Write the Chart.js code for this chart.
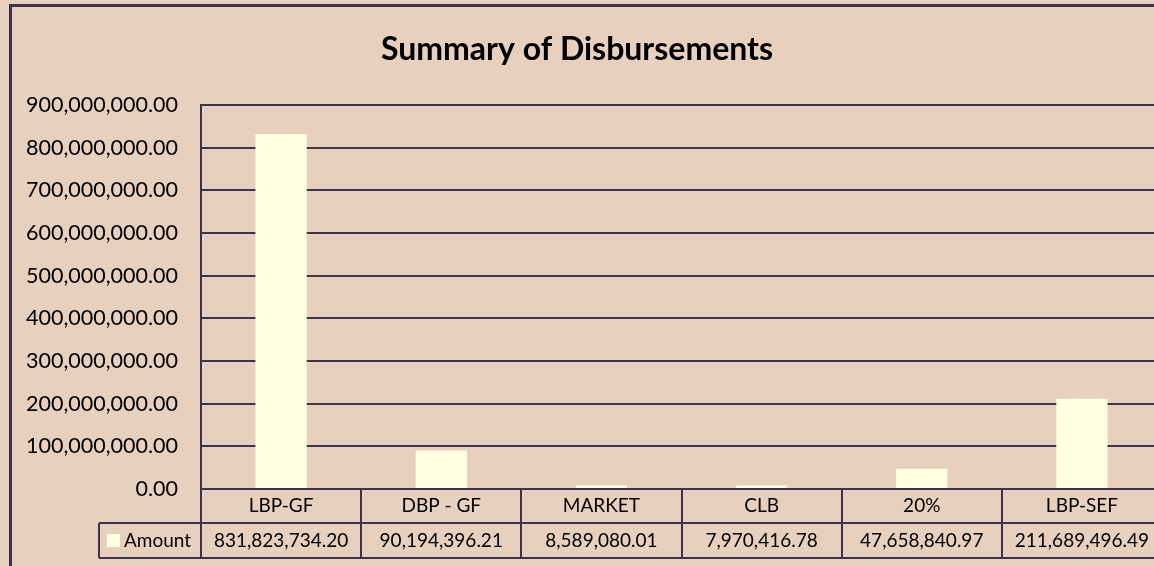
<!DOCTYPE html>
<html>
<head>
<meta charset="utf-8">
<script src="https://cdn.jsdelivr.net/npm/chart.js@4"></script>
<style>
html, body { margin: 0; padding: 0; background: #E8D0BE; overflow: hidden; }
#wrap { width: 1162px; height: 566px; }
</style>
</head>
<body>
<div id="wrap"><canvas id="chart" width="1162" height="566"></canvas></div>
<script>
const CATEGORIES = ['LBP-GF', 'DBP - GF', 'MARKET', 'CLB', '20%', 'LBP-SEF'];
const AMOUNTS = [831823734.20, 90194396.21, 8589080.01, 7970416.78, 47658840.97, 211689496.49];
const SERIES_LABEL = 'Amount';
const TITLE = 'Summary of Disbursements';
const Y_MIN = 0;
const Y_MAX = 900000000;
const Y_STEP = 100000000;

const LINE = '#3F3151';
const BAR = '#FFFFE3';
const FONT = 'Lato, "Open Sans", sans-serif';

const fmt = v => v.toLocaleString('en-US', { minimumFractionDigits: 2, maximumFractionDigits: 2 });

// title, outer frame and the data table under the plot
const tablePlugin = {
    id: 'dataTable',
    afterDraw: (chart) => {
        const ctx = chart.ctx;
        const x = chart.scales.x;
        const area = chart.chartArea;
        const step = x.getPixelForValue(1) - x.getPixelForValue(0);
        const top = area.bottom;
        const mid = top + 34;
        const bottom = top + 69;
        const legendLeft = 99;

        ctx.save();

        ctx.strokeStyle = LINE;
        ctx.lineWidth = 3;
        ctx.beginPath();
        ctx.moveTo(9, 5.5); ctx.lineTo(chart.width, 5.5);
        ctx.moveTo(10.5, 4); ctx.lineTo(10.5, chart.height);
        ctx.stroke();

        ctx.fillStyle = '#000';
        ctx.font = 'bold 32px ' + FONT;
        ctx.textAlign = 'center';
        ctx.textBaseline = 'middle';
        ctx.fillText(TITLE, 577, 50);

        ctx.lineWidth = 2;
        ctx.beginPath();
        ctx.moveTo(legendLeft, mid); ctx.lineTo(chart.width, mid);
        ctx.moveTo(legendLeft, bottom); ctx.lineTo(chart.width, bottom);
        ctx.moveTo(legendLeft, mid); ctx.lineTo(legendLeft, bottom);
        CATEGORIES.forEach((c, i) => {
            const edge = Math.round(x.getPixelForValue(i) - step / 2);
            ctx.moveTo(edge, top); ctx.lineTo(edge, bottom);
        });
        ctx.stroke();

        ctx.font = '19px ' + FONT;
        ctx.fillStyle = '#000';
        CATEGORIES.forEach((c, i) => {
            const cx = x.getPixelForValue(i);
            ctx.fillText(c, cx, top + 17);
            ctx.fillText(fmt(AMOUNTS[i]), cx, mid + 17.5);
        });

        ctx.fillStyle = BAR;
        ctx.fillRect(107, 534, 13, 13);
        ctx.fillStyle = '#000';
        ctx.textAlign = 'left';
        ctx.fillText(SERIES_LABEL, 124, mid + 17.5);

        ctx.restore();
    }
};

new Chart(document.getElementById('chart').getContext('2d'), {
    type: 'bar',
    data: {
        labels: CATEGORIES,
        datasets: [{
            label: SERIES_LABEL,
            data: AMOUNTS,
            backgroundColor: BAR,
            borderWidth: 0,
            barPercentage: 0.32,
            categoryPercentage: 1
        }]
    },
    options: {
        responsive: false,
        animation: false,
        devicePixelRatio: 1,
        layout: { padding: { top: 105, left: 0, right: 0, bottom: 0 } },
        plugins: {
            legend: { display: false },
            tooltip: { enabled: false },
            title: { display: false }
        },
        scales: {
            x: {
                grid: { display: false },
                border: { display: false },
                ticks: { display: false },
                afterFit: (scale) => { scale.height = 77; }
            },
            y: {
                min: Y_MIN,
                max: Y_MAX,
                grid: { color: LINE, lineWidth: 2, drawTicks: false },
                border: { display: true, color: LINE, width: 2 },
                ticks: {
                    stepSize: Y_STEP,
                    padding: 23,
                    color: '#000',
                    font: { family: FONT, size: 21.5 },
                    callback: (v) => fmt(v)
                },
                afterFit: (scale) => { scale.width = 201; }
            }
        }
    },
    plugins: [tablePlugin]
});
</script>
</body>
</html>
